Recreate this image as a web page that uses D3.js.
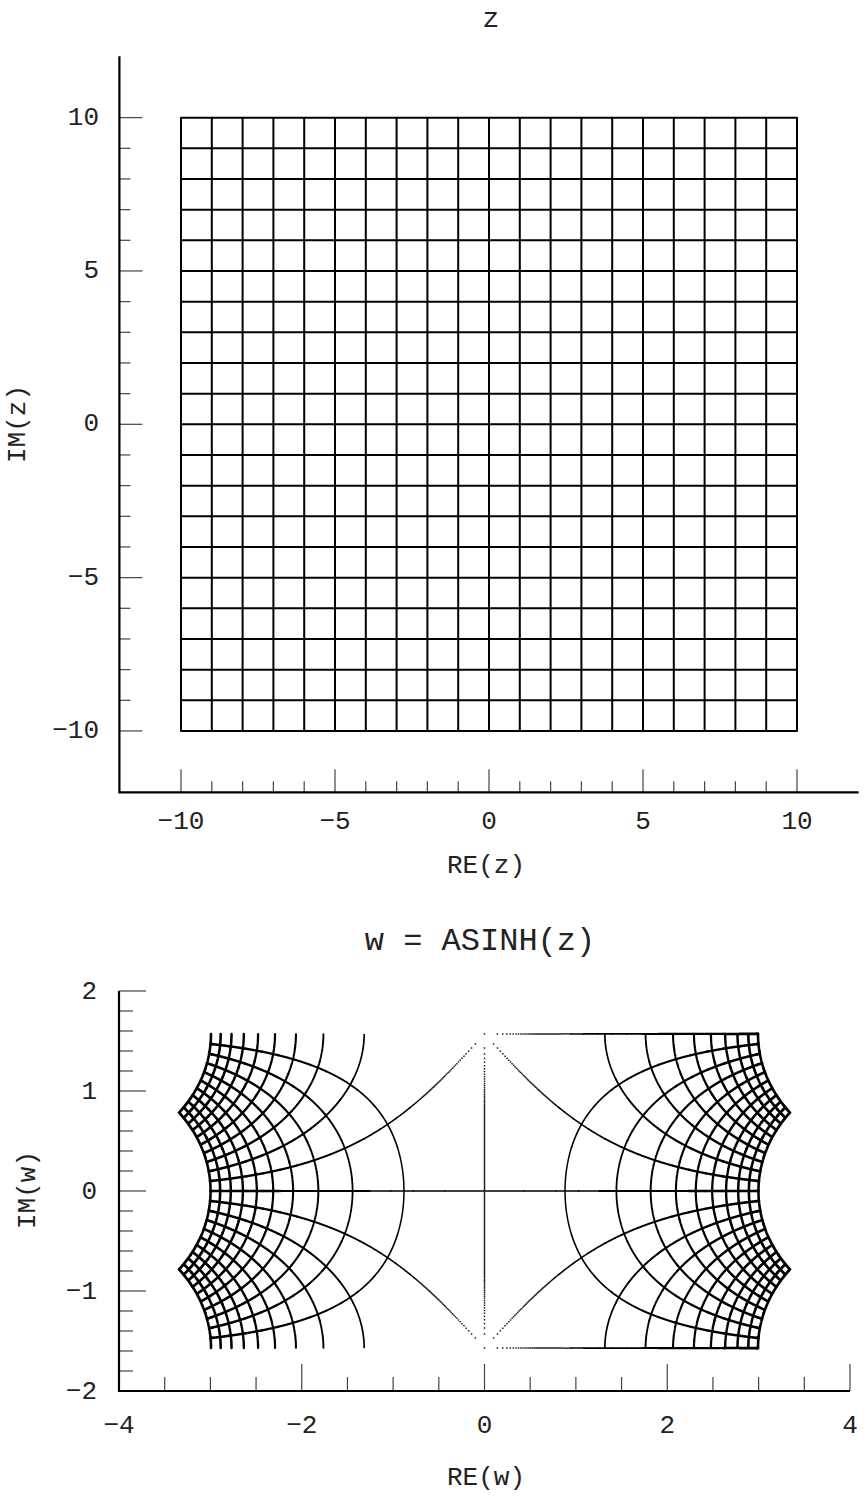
<!DOCTYPE html>
<html>
<head>
<meta charset="utf-8">
<script src="https://cdn.jsdelivr.net/npm/d3@7"></script>
<style>
  html, body { margin: 0; padding: 0; background: #fff; }
  svg text { font-family: "Liberation Mono", "Courier New", monospace; fill: #222; }
</style>
</head>
<body>
<svg id="chart" width="866" height="1497"></svg>
<script>
// Grid lines of the z-plane: Re(z) = const and Im(z) = const
const gridRe = [-10, -9, -8, -7, -6, -5, -4, -3, -2, -1, 0, 1, 2, 3, 4, 5, 6, 7, 8, 9, 10];
const gridIm = [-10, -9, -8, -7, -6, -5, -4, -3, -2, -1, 0, 1, 2, 3, 4, 5, 6, 7, 8, 9, 10];
const lineSpan = [-10, 10];      // each grid line runs over this parameter range
const SAMPLE_STEP = 0.01;        // spacing of the plotted points along a line

// Axis ticks
const zMajorTicks = [-10, -5, 0, 5, 10];
const zMinorTicks = [-9, -8, -7, -6, -4, -3, -2, -1, 1, 2, 3, 4, 6, 7, 8, 9];
const wXMajorTicks = [-4, -2, 0, 2, 4];
const wXMinorTicks = [-3.5, -3, -2.5, -1.5, -1, -0.5, 0.5, 1, 1.5, 2.5, 3, 3.5];
const wYMajorTicks = [-2, -1, 0, 1, 2];
const wYMinorTicks = [-1.8, -1.6, -1.4, -1.2, -0.8, -0.6, -0.4, -0.2, 0.2, 0.4, 0.6, 0.8, 1.2, 1.4, 1.6, 1.8];

const titles = { z: "z", w: "w = ASINH(z)" };
const labels = { zx: "RE(z)", zy: "IM(z)", wx: "RE(w)", wy: "IM(w)" };

const svg = d3.select("#chart");
const fmt = d => (d < 0 ? "\u2212" + Math.abs(d) : String(d));

// Principal complex asinh, w = ln(z + sqrt(z^2 + 1)); on the imaginary-axis
// cuts (|Im z| > 1, Re z = 0) the point lands on the Re(w) >= 0 side.
function csqrt(a, b) {
  const r = Math.hypot(a, b);
  const re = Math.sqrt((r + a) / 2);
  let im = Math.sqrt(Math.max(0, (r - a) / 2));
  if (b < 0) im = -im;
  return [re, im];
}
function asinhPos(x, y) {
  const a = x * x - y * y + 1, b = 2 * x * y;
  const [sr, si] = csqrt(a, b);
  const ur = x + sr, ui = y + si;
  return [Math.log(Math.hypot(ur, ui)), Math.atan2(ui, ur)];
}
function casinh(x, y) {
  if (x === 0 && Math.abs(y) > 1) {
    return [Math.log(Math.abs(y) + Math.sqrt(y * y - 1)), Math.sign(y) * Math.PI / 2];
  }
  if (x < 0) {
    const [r, i] = asinhPos(-x, -y);
    return [-r, -i];
  }
  return asinhPos(x, y);
}
const identity = (x, y) => [x, y];

// Sample every grid line as a sequence of z points
const nSamples = Math.round((lineSpan[1] - lineSpan[0]) / SAMPLE_STEP);
const gridLines = [];
gridRe.forEach(c => {
  gridLines.push(d3.range(nSamples + 1).map(k => [c, lineSpan[0] + k * SAMPLE_STEP]));
});
gridIm.forEach(c => {
  gridLines.push(d3.range(nSamples + 1).map(k => [lineSpan[0] + k * SAMPLE_STEP, c]));
});

// Draw mapped grid points: close neighbours are joined (heavier where the points
// crowd), isolated points stay as single small dots.
function drawGrid(g, fn, xs, ys) {
  const buckets = new Map();
  const dots = d3.path();
  const widthFor = s => Math.max(1.2, Math.min(2.9, 1.35 + 0.38 * Math.log2(1 / Math.max(s, 1e-3))));
  const r2 = v => Math.round(v * 100) / 100;
  gridLines.forEach(line => {
    const px = line.map(([x, y]) => { const [u, v] = fn(x, y); return [xs(u), ys(v)]; });
    const joined = new Array(px.length).fill(false);
    let prevBucket = null;
    for (let k = 0; k < px.length - 1; k++) {
      const p = px[k], q = px[k + 1];
      const s = Math.hypot(q[0] - p[0], q[1] - p[1]);
      if (s < 0.95) {
        joined[k] = joined[k + 1] = true;
        const b = Math.round(widthFor(s) * 10) / 10;
        if (!buckets.has(b)) buckets.set(b, d3.path());
        const path = buckets.get(b);
        if (prevBucket !== b) path.moveTo(r2(p[0]), r2(p[1]));
        path.lineTo(r2(q[0]), r2(q[1]));
        prevBucket = b;
      } else {
        prevBucket = null;
      }
    }
    px.forEach((p, k) => {
      if (!joined[k]) dots.rect(r2(p[0] - 0.75), r2(p[1] - 0.75), 1.5, 1.5);
    });
  });
  [...buckets.entries()].sort((a, b) => a[0] - b[0]).forEach(([w, path]) => {
    g.append("path")
      .attr("d", path.toString())
      .attr("fill", "none")
      .attr("stroke", "#000")
      .attr("stroke-width", w)
      .attr("stroke-linecap", "round")
      .attr("stroke-linejoin", "round");
  });
  g.append("path").attr("d", dots.toString()).attr("fill", "#222");
}

function drawAxes(g, xs, ys, opt) {
  const x0 = xs.range()[0], x1 = xs.range()[1];
  const y0 = ys.range()[0], y1 = ys.range()[1];
  const tickLine = (sel) => sel.attr("stroke", "#444").attr("stroke-width", 1.2);
  // y ticks point right from the axis
  opt.yMinor.forEach(v => g.append("line").attr("x1", x0).attr("x2", x0 + opt.minorLen)
    .attr("y1", ys(v)).attr("y2", ys(v)).call(tickLine));
  opt.yMajor.forEach(v => g.append("line").attr("x1", x0).attr("x2", x0 + opt.majorLen)
    .attr("y1", ys(v)).attr("y2", ys(v)).call(tickLine));
  // x ticks point up from the axis
  opt.xMinor.forEach(v => g.append("line").attr("x1", xs(v)).attr("x2", xs(v))
    .attr("y1", y0).attr("y2", y0 - opt.minorLen).call(tickLine));
  opt.xMajor.forEach(v => g.append("line").attr("x1", xs(v)).attr("x2", xs(v))
    .attr("y1", y0).attr("y2", y0 - opt.majorLen).call(tickLine));
  // axis lines
  g.append("path")
    .attr("d", `M${x0},${y1}V${y0}H${x1}`)
    .attr("fill", "none").attr("stroke", "#000").attr("stroke-width", 2.2);
  // tick labels
  g.selectAll(".ylab").data(opt.yMajor).join("text")
    .attr("x", opt.yLabelX).attr("y", d => ys(d) + opt.yLabelDy)
    .attr("text-anchor", "end").attr("dominant-baseline", "central")
    .attr("font-size", opt.fontSize).text(fmt);
  g.selectAll(".xlab").data(opt.xMajor).join("text")
    .attr("x", d => xs(d)).attr("y", opt.xLabelY)
    .attr("text-anchor", "middle").attr("dominant-baseline", "central")
    .attr("font-size", opt.fontSize).text(fmt);
}

// ---- z plane ----
const zx = d3.scaleLinear().domain([-12, 12]).range([119.4, 858.6]);
const zy = d3.scaleLinear().domain([-12, 12]).range([792.3, 56.3]);
const gz = svg.append("g");
drawGrid(gz.append("g"), identity, zx, zy);
drawAxes(gz, zx, zy, {
  xMajor: zMajorTicks, xMinor: zMinorTicks, yMajor: zMajorTicks, yMinor: zMinorTicks,
  majorLen: 23, minorLen: 11, yLabelX: 99, yLabelDy: 0, xLabelY: 822, fontSize: 26
});
svg.append("text").attr("x", 491).attr("y", 19).attr("text-anchor", "middle")
  .attr("dominant-baseline", "central").attr("font-size", 28).text(titles.z);
svg.append("text").attr("x", 486).attr("y", 866).attr("text-anchor", "middle")
  .attr("dominant-baseline", "central").attr("font-size", 26).text(labels.zx);
svg.append("text").attr("transform", "translate(18,424) rotate(-90)").attr("text-anchor", "middle")
  .attr("dominant-baseline", "central").attr("font-size", 26).text(labels.zy);

// ---- w plane ----
const wx = d3.scaleLinear().domain([-4, 4]).range([119, 850]);
const wy = d3.scaleLinear().domain([-2, 2]).range([1391, 991]);
const gw = svg.append("g");
drawGrid(gw.append("g"), casinh, wx, wy);
drawAxes(gw, wx, wy, {
  xMajor: wXMajorTicks, xMinor: wXMinorTicks, yMajor: wYMajorTicks, yMinor: wYMinorTicks,
  majorLen: 27, minorLen: 14, yLabelX: 97, yLabelDy: 1, xLabelY: 1426, fontSize: 26
});
svg.append("text").attr("x", 480).attr("y", 941).attr("text-anchor", "middle")
  .attr("dominant-baseline", "central").attr("font-size", 32).text(titles.w);
svg.append("text").attr("x", 486).attr("y", 1478).attr("text-anchor", "middle")
  .attr("dominant-baseline", "central").attr("font-size", 26).text(labels.wx);
svg.append("text").attr("transform", "translate(28,1190) rotate(-90)").attr("text-anchor", "middle")
  .attr("dominant-baseline", "central").attr("font-size", 26).text(labels.wy);
</script>
</body>
</html>
